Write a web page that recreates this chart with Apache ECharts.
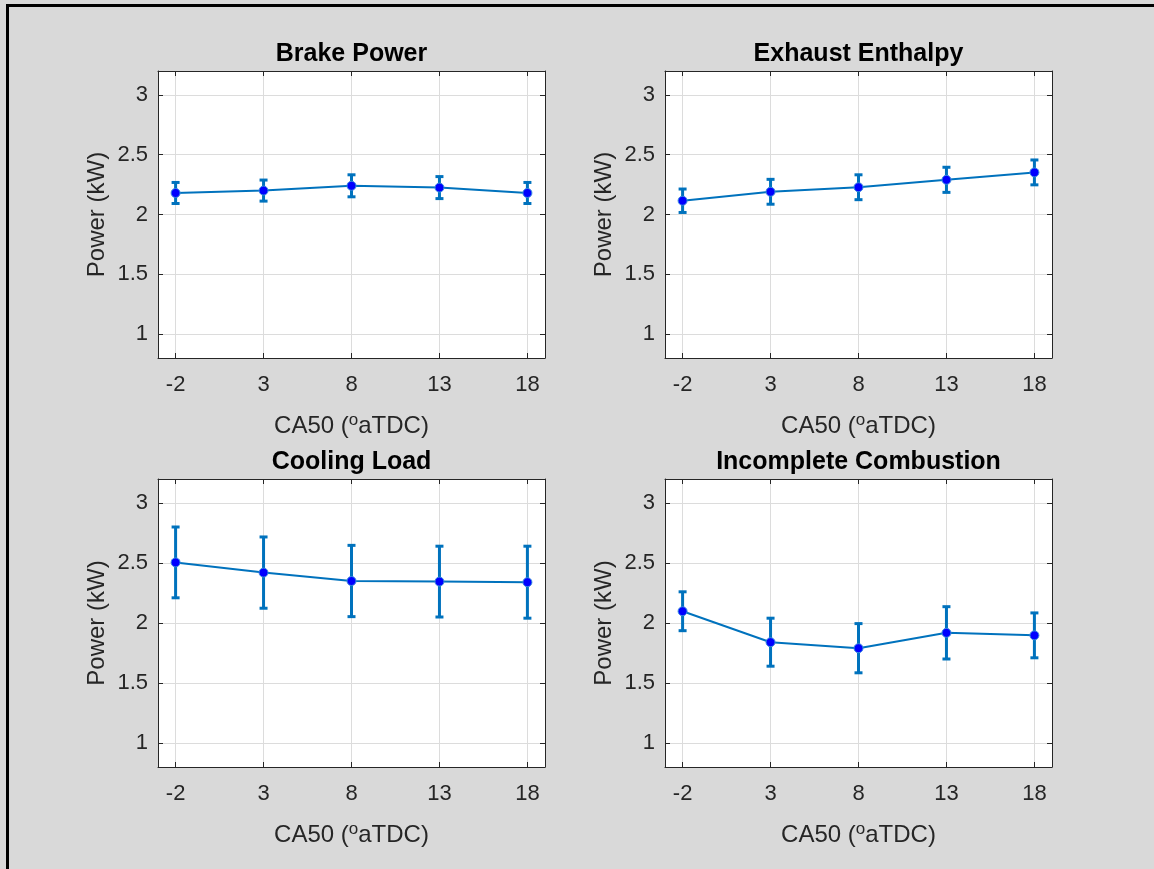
<!DOCTYPE html>
<html>
<head>
<meta charset="utf-8">
<script src="https://cdn.jsdelivr.net/npm/echarts@6/dist/echarts.min.js"></script>
<style>
  html, body { margin: 0; padding: 0; background: #d9d9d9; }
  #chart { width: 1154px; height: 869px; }
</style>
</head>
<body>
<div id="chart"></div>
<script>
// CA50 sweep points (deg aTDC)
const ca50 = [-2, 3, 8, 13, 18];

// Mean power terms (kW) and their error half-widths (kW)
const brakePower = [2.18, 2.20, 2.24, 2.225, 2.18];
const brakePowerErr = [0.088, 0.088, 0.092, 0.092, 0.088];

const exhaustEnthalpy = [2.115, 2.19, 2.228, 2.29, 2.352];
const exhaustEnthalpyErr = [0.098, 0.104, 0.104, 0.105, 0.104];

const coolingLoad = [2.505, 2.42, 2.35, 2.345, 2.34];
const coolingLoadErr = [0.295, 0.297, 0.297, 0.295, 0.30];

const incompleteCombustion = [2.098, 1.84, 1.79, 1.918, 1.897];
const incompleteCombustionErr = [0.162, 0.20, 0.205, 0.218, 0.187];

// Panel titles and tick positions
const panelTitles = ['Brake Power', 'Exhaust Enthalpy', 'Cooling Load', 'Incomplete Combustion'];
const xTicks = [-2, 3, 8, 13, 18];
const yTicks = [1, 1.5, 2, 2.5, 3];

const panels = [
  { title: panelTitles[0], mean: brakePower, err: brakePowerErr },
  { title: panelTitles[1], mean: exhaustEnthalpy, err: exhaustEnthalpyErr },
  { title: panelTitles[2], mean: coolingLoad, err: coolingLoadErr },
  { title: panelTitles[3], mean: incompleteCombustion, err: incompleteCombustionErr }
];

const gridBoxes = [
  { left: 158, top: 71, width: 387, height: 287 },
  { left: 665, top: 71, width: 387, height: 287 },
  { left: 158, top: 479, width: 387, height: 288 },
  { left: 665, top: 479, width: 387, height: 288 }
];

const AXIS = '#262626';
const LINE = '#0072BD';
const FONT = 'Liberation Sans, Arial, Helvetica, sans-serif';

const grid = [], xAxis = [], yAxis = [], series = [];

panels.forEach((p, i) => {
  grid.push(Object.assign({ backgroundColor: '#ffffff', show: true, borderWidth: 0 }, gridBoxes[i]));

  // bottom x axis (labels, grid lines, name)
  xAxis.push({
    type: 'value', gridIndex: i, position: 'bottom', min: -3, max: 19,
    axisLine: { show: true, onZero: false, lineStyle: { color: AXIS, width: 1 } },
    axisTick: { show: true, inside: true, length: 5, customValues: xTicks, lineStyle: { color: AXIS } },
    axisLabel: { show: true, customValues: xTicks, margin: 16, color: AXIS, fontSize: 22, fontFamily: FONT },
    splitLine: { show: true, lineStyle: { color: '#dcdcdc', width: 1 } },
    name: '{n|CA50 (}{s|o}{n|aTDC)}',
    nameLocation: 'middle', nameGap: 54,
    nameTextStyle: {
      fontFamily: FONT, color: AXIS,
      rich: {
        n: { fontSize: 24, lineHeight: 28, fontFamily: FONT, color: AXIS },
        s: { fontSize: 17, lineHeight: 12, verticalAlign: 'top', fontFamily: FONT, color: AXIS }
      }
    }
  });
  // top x axis (box edge, ticks, panel title)
  xAxis.push({
    type: 'value', gridIndex: i, position: 'top', min: -3, max: 19,
    axisLine: { show: true, onZero: false, lineStyle: { color: AXIS, width: 1 } },
    axisTick: { show: true, inside: true, length: 5, customValues: xTicks, lineStyle: { color: AXIS } },
    axisLabel: { show: false },
    splitLine: { show: false },
    name: p.title, nameLocation: 'middle', nameGap: 4,
    nameTextStyle: { fontFamily: FONT, fontSize: 25, fontWeight: 'bold', color: '#000000' }
  });

  // left y axis
  yAxis.push({
    type: 'value', gridIndex: i, position: 'left', min: 0.8, max: 3.2,
    axisLine: { show: true, onZero: false, lineStyle: { color: AXIS, width: 1 } },
    axisTick: { show: true, inside: true, length: 5, customValues: yTicks, lineStyle: { color: AXIS } },
    axisLabel: { show: true, customValues: yTicks, margin: 10, color: AXIS, fontSize: 22, fontFamily: FONT },
    splitLine: { show: true, lineStyle: { color: '#dcdcdc', width: 1 } },
    name: 'Power (kW)', nameLocation: 'middle', nameGap: 49,
    nameTextStyle: { fontFamily: FONT, fontSize: 24, color: AXIS }
  });
  // right y axis (box edge, ticks)
  yAxis.push({
    type: 'value', gridIndex: i, position: 'right', min: 0.8, max: 3.2,
    axisLine: { show: true, onZero: false, lineStyle: { color: AXIS, width: 1 } },
    axisTick: { show: true, inside: true, length: 5, customValues: yTicks, lineStyle: { color: AXIS } },
    axisLabel: { show: false },
    splitLine: { show: false }
  });

  // error bars
  series.push({
    type: 'custom', xAxisIndex: 2 * i, yAxisIndex: 2 * i, z: 3,
    data: ca50.map((x, k) => [x, p.mean[k], p.err[k]]),
    renderItem: function (params, api) {
      const x = api.value(0), y = api.value(1), e = api.value(2);
      const hi = api.coord([x, y + e]);
      const lo = api.coord([x, y - e]);
      const cap = 4;
      const style = { stroke: LINE, lineWidth: 3 };
      return {
        type: 'group',
        children: [
          { type: 'line', shape: { x1: hi[0], y1: hi[1], x2: lo[0], y2: lo[1] }, style: style },
          { type: 'line', shape: { x1: hi[0] - cap, y1: hi[1], x2: hi[0] + cap, y2: hi[1] }, style: style },
          { type: 'line', shape: { x1: lo[0] - cap, y1: lo[1], x2: lo[0] + cap, y2: lo[1] }, style: style }
        ]
      };
    }
  });

  // mean line with markers
  series.push({
    type: 'line', xAxisIndex: 2 * i, yAxisIndex: 2 * i, z: 4,
    data: ca50.map((x, k) => [x, p.mean[k]]),
    lineStyle: { color: LINE, width: 2 },
    symbol: 'circle', symbolSize: 9,
    itemStyle: { color: '#0000ff', borderColor: '#3b8ee0', borderWidth: 1 },
    emphasis: { disabled: true }
  });
});

const chart = echarts.init(document.getElementById('chart'), null, { renderer: 'canvas' });
chart.setOption({
  backgroundColor: '#d9d9d9',
  animation: false,
  grid: grid,
  xAxis: xAxis,
  yAxis: yAxis,
  series: series,
  graphic: [
    { type: 'rect', left: 6, top: 4, shape: { width: 3, height: 869 }, style: { fill: '#000000' }, silent: true },
    { type: 'rect', left: 6, top: 4, shape: { width: 1148, height: 3 }, style: { fill: '#000000' }, silent: true }
  ]
});
</script>
</body>
</html>
